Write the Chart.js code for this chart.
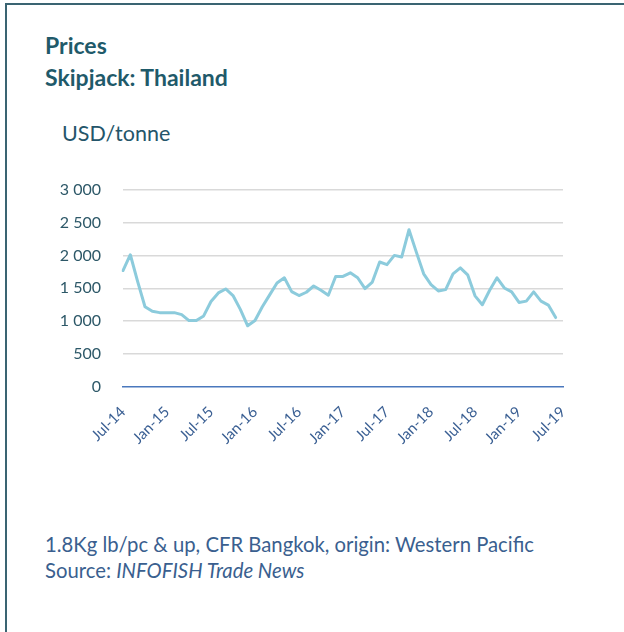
<!DOCTYPE html>
<html><head><meta charset="utf-8">
<script src="https://cdn.jsdelivr.net/npm/chart.js@4.4.1/dist/chart.umd.min.js"></script>
<style>
html,body{margin:0;padding:0;background:#fff;width:624px;height:632px;overflow:hidden;font-family:Lato,"Open Sans",sans-serif;}
#frame{position:absolute;left:5px;top:3px;width:700px;height:700px;border:2px solid #3a6472;box-sizing:border-box;}
.t{position:absolute;white-space:nowrap;line-height:1;}
#t1{left:45px;top:34px;font-weight:bold;font-size:23px;color:#1f5a6a;}
#t2{left:45px;top:66px;font-weight:bold;font-size:23px;color:#1f5a6a;}
#unit{left:62px;top:123px;font-size:21.5px;color:#24556a;}
#n1{left:45px;top:534px;font-size:20.3px;color:#3a5f8f;}
#n2{left:45px;top:560px;font-size:20.3px;color:#3a5f8f;}
#wrap{position:absolute;left:60px;top:158px;width:520px;height:307px;}
</style></head>
<body>
<div id="frame"></div>
<div class="t" id="t1">Prices</div>
<div class="t" id="t2">Skipjack: Thailand</div>
<div class="t" id="unit">USD/tonne</div>
<div class="t" id="n1">1.8Kg lb/pc &amp; up, CFR Bangkok, origin: Western Pacific</div>
<div class="t" id="n2">Source: <i>INFOFISH Trade News</i></div>
<div id="wrap"><canvas id="c" width="520" height="307"></canvas></div>
<script>
const months = [
 'Jul-14','Aug-14','Sep-14','Oct-14','Nov-14','Dec-14',
 'Jan-15','Feb-15','Mar-15','Apr-15','May-15','Jun-15','Jul-15','Aug-15','Sep-15','Oct-15','Nov-15','Dec-15',
 'Jan-16','Feb-16','Mar-16','Apr-16','May-16','Jun-16','Jul-16','Aug-16','Sep-16','Oct-16','Nov-16','Dec-16',
 'Jan-17','Feb-17','Mar-17','Apr-17','May-17','Jun-17','Jul-17','Aug-17','Sep-17','Oct-17','Nov-17','Dec-17',
 'Jan-18','Feb-18','Mar-18','Apr-18','May-18','Jun-18','Jul-18','Aug-18','Sep-18','Oct-18','Nov-18','Dec-18',
 'Jan-19','Feb-19','Mar-19','Apr-19','May-19','Jun-19','Jul-19'
];
const prices = [
 1770,2010,1600,1220,1150,1130,
 1130,1130,1100,1010,1010,1080,1300,1430,1490,1390,1180,930,
 1010,1220,1400,1580,1660,1450,1390,1440,1535,1470,1395,1680,
 1680,1735,1660,1495,1595,1900,1860,2000,1975,2390,2050,1720,
 1555,1460,1480,1720,1810,1705,1385,1250,1470,1660,1505,1445,
 1285,1305,1445,1305,1245,1055
];
const yTicks = [0,500,1000,1500,2000,2500,3000];
const labelEvery = 6;

function fmt(v){
  if (v >= 1000) { const th = Math.floor(v/1000); const r = String(v%1000).padStart(3,'0'); return th + ' ' + r; }
  return String(v);
}

new Chart(document.getElementById('c'), {
  type: 'line',
  data: {
    labels: months,
    datasets: [{
      data: prices,
      borderColor: '#8ccbdc',
      borderWidth: 3,
      pointRadius: 0,
      tension: 0,
      borderJoinStyle: 'round',
      borderCapStyle: 'round',
      fill: false
    }]
  },
  options: {
    responsive: false,
    animation: false,
    devicePixelRatio: 1,
    layout: { padding: { top: 13, right: 17, left: 0, bottom: 0 } },
    plugins: { legend: { display: false }, tooltip: { enabled: false } },
    scales: {
      x: {
        type: 'category',
        offset: false,
        grid: { display: false, drawTicks: false },
        border: { display: true, color: '#4a78bd', width: 1.5 },
        ticks: {
          autoSkip: false, maxRotation: 45, minRotation: 45, padding: 16,
          color: '#3a5f93', font: { family: 'Lato', size: 15 },
          callback: function(v, i){ return i % labelEvery === 0 ? months[i] : null; }
        },
        afterFit: function(s){ s.height = 78; s.paddingRight = 0; s.paddingLeft = 0; }
      },
      y: {
        min: 0, max: 3000,
        afterBuildTicks: function(s){ s.ticks = yTicks.map(v => ({ value: v })); },
        grid: { drawTicks: false, lineWidth: 1.5, color: function(ctx){ return ctx.tick && ctx.tick.value === 0 ? 'rgba(0,0,0,0)' : '#d9d9d9'; } },
        border: { display: false },
        ticks: { padding: 22, color: '#2d5868', font: { family: 'Lato', size: 16 }, callback: function(v){ return fmt(v); } },
        afterFit: function(s){ s.width = 63; }
      }
    }
  }
});
</script>
</body></html>
